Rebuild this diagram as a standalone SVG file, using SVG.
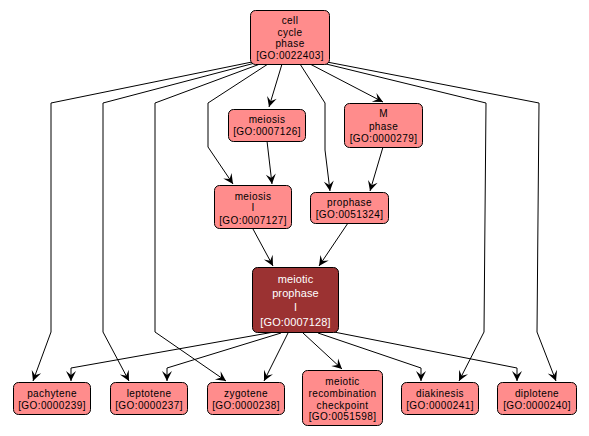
<svg xmlns="http://www.w3.org/2000/svg" width="589" height="436" viewBox="0 0 589 436">
<defs>
<marker id="arr" viewBox="-11 -6 12 12" refX="0" refY="0" markerWidth="12" markerHeight="12" markerUnits="userSpaceOnUse" orient="auto">
<path d="M0,0 L-10,-5 L-6,0 L-10,5 Z" fill="#000"/>
</marker>
<style>
.n rect{fill:#ff8c8c;stroke:#000;stroke-width:1}
.d rect{fill:#9b3232;stroke:#000;stroke-width:1}
text{font-family:"Liberation Sans",Arial,sans-serif;font-size:10px;text-anchor:middle;letter-spacing:0.4px;fill:#000}
.d text{fill:#fff;font-size:11px;letter-spacing:0.1px}
.e path{fill:none;stroke:#000;stroke-width:1;marker-end:url(#arr)}
</style>
</defs>
<rect width="589" height="436" fill="#fff"/>
<g class="e" id="edges">
<path d="M252,62 L51,103 L51,332 L33,381"/>
<path d="M255,63 L103,103 L103,332 L129,381"/>
<path d="M260,64 L155,103 L155,332 L226,381"/>
<path d="M268,64 L208,103 L208,147 L233,184"/>
<path d="M282,64 L269,107"/>
<path d="M300,64 L325,103 L325,150 L330,191"/>
<path d="M310,64 L383,102"/>
<path d="M322,63 L486,103 L484,332 L459,381"/>
<path d="M327,62 L539,103 L537,332 L556,381"/>
<path d="M267,141 L272,184"/>
<path d="M383,147 L370,191"/>
<path d="M253,229 L273,266"/>
<path d="M348,223 L319,266"/>
<path d="M274,332 L71,368 L71,381"/>
<path d="M281,333 L167,368 L167,381"/>
<path d="M288,333 L264,381"/>
<path d="M303,333 L342,369"/>
<path d="M318,333 L421,368 L421,381"/>
<path d="M334,332 L517,368 L517,381"/>
</g>
<g class="n" id="n_cell_cycle_phase">
<rect x="250.5" y="10.5" width="79" height="54" rx="5"/>
<text x="290" y="24">cell</text><text x="290" y="36">cycle</text><text x="290" y="47">phase</text><text x="290" y="59">[GO:0022403]</text>
</g>
<g class="n" id="n_meiosis">
<rect x="228.5" y="109.5" width="77" height="32" rx="5"/>
<text x="267" y="123">meiosis</text><text x="267" y="135">[GO:0007126]</text>
</g>
<g class="n" id="n_m_phase">
<rect x="344.5" y="103.5" width="78" height="44" rx="5"/>
<text x="383.5" y="117">M</text><text x="383.5" y="130">phase</text><text x="383.5" y="142">[GO:0000279]</text>
</g>
<g class="n" id="n_meiosis_i">
<rect x="214.5" y="185.5" width="77" height="43" rx="5"/>
<text x="253" y="200">meiosis</text><text x="253" y="211">I</text><text x="253" y="224">[GO:0007127]</text>
</g>
<g class="n" id="n_prophase">
<rect x="310.5" y="192.5" width="78" height="31" rx="5"/>
<text x="349.5" y="206">prophase</text><text x="349.5" y="218">[GO:0051324]</text>
</g>
<g class="d" id="n_meiotic_prophase_i">
<rect x="252.5" y="267.5" width="86" height="65" rx="5"/>
<text x="295.5" y="283">meiotic</text><text x="295.5" y="297">prophase</text><text x="295.5" y="311">I</text><text x="295.5" y="326">[GO:0007128]</text>
</g>
<g class="n" id="n_pachytene">
<rect x="13.5" y="382.5" width="77" height="32" rx="5"/>
<text x="52" y="397">pachytene</text><text x="52" y="409">[GO:0000239]</text>
</g>
<g class="n" id="n_leptotene">
<rect x="110.5" y="382.5" width="77" height="32" rx="5"/>
<text x="149" y="397">leptotene</text><text x="149" y="409">[GO:0000237]</text>
</g>
<g class="n" id="n_zygotene">
<rect x="207.5" y="382.5" width="77" height="32" rx="5"/>
<text x="246" y="397">zygotene</text><text x="246" y="409">[GO:0000238]</text>
</g>
<g class="n" id="n_meiotic_recombination_checkpoint">
<rect x="302.5" y="370.5" width="80" height="55" rx="5"/>
<text x="342.5" y="385">meiotic</text><text x="342.5" y="397">recombination</text><text x="342.5" y="409">checkpoint</text><text x="342.5" y="420">[GO:0051598]</text>
</g>
<g class="n" id="n_diakinesis">
<rect x="401.5" y="382.5" width="77" height="32" rx="5"/>
<text x="440" y="397">diakinesis</text><text x="440" y="409">[GO:0000241]</text>
</g>
<g class="n" id="n_diplotene">
<rect x="497.5" y="382.5" width="79" height="32" rx="5"/>
<text x="537" y="397">diplotene</text><text x="537" y="409">[GO:0000240]</text>
</g>
</svg>
